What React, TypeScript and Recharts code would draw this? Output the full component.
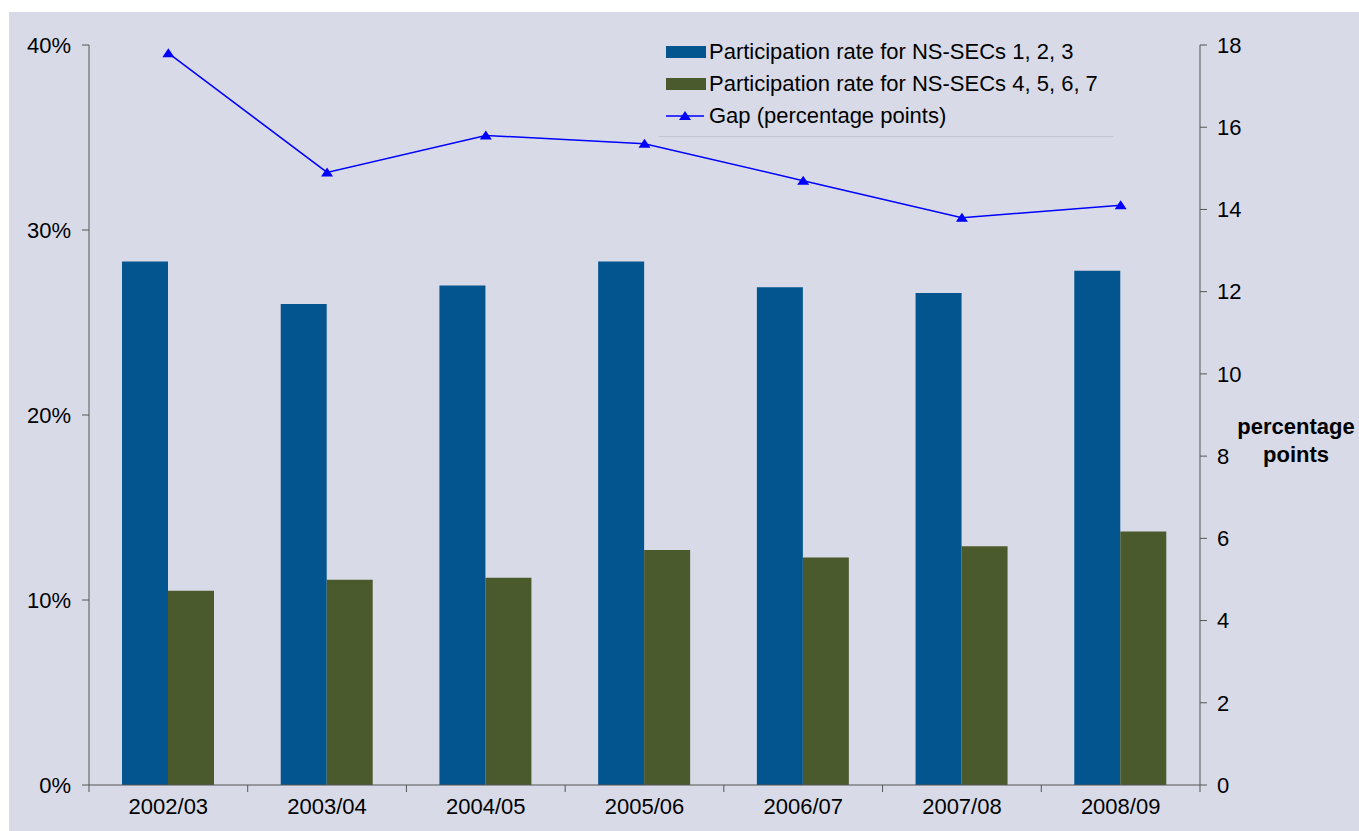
import { ComposedChart, Bar, Line, XAxis, YAxis, Legend } from 'recharts';

const years = ['2002/03', '2003/04', '2004/05', '2005/06', '2006/07', '2007/08', '2008/09'];
const rateHigh = [28.3, 26.0, 27.0, 28.3, 26.9, 26.6, 27.8];
const rateLow = [10.5, 11.1, 11.2, 12.7, 12.3, 12.9, 13.7];
const gapPoints = [17.8, 14.9, 15.8, 15.6, 14.7, 13.8, 14.1];
const leftTicks = [0, 10, 20, 30, 40];
const rightTicks = [0, 2, 4, 6, 8, 10, 12, 14, 16, 18];

const seriesNames = [
  'Participation rate for NS-SECs 1, 2, 3',
  'Participation rate for NS-SECs 4, 5, 6, 7',
  'Gap (percentage points)',
];

const data = years.map((year, i) => ({
  year,
  high: rateHigh[i],
  low: rateLow[i],
  gap: gapPoints[i],
}));

const W = 1359;
const H = 831;
const LEFT_W = 89;
const RIGHT_W = 159;
const HALF_BAND = (W - LEFT_W - RIGHT_W) / years.length / 2;

const FONT = '"Liberation Sans", Arial, sans-serif';
const BLUE = '#02558f';
const OLIVE = '#4b5a2d';
const LINE = '#0000ff';
const AXIS = '#555555';

const tickStyle = { fontSize: 22, fill: '#000', fontFamily: FONT };

const Triangle = ({ cx, cy }: any) => {
  if (cx == null || cy == null) return null;
  return <polygon points={`${cx},${cy - 5} ${cx - 6},${cy + 4} ${cx + 6},${cy + 4}`} fill={LINE} />;
};

const XTick = ({ x, y, payload, index }: any) => (
  <g>
    <line x1={x - HALF_BAND} x2={x - HALF_BAND} y1={y - 13} y2={y - 6} stroke={AXIS} />
    {index === years.length - 1 && (
      <line x1={x + HALF_BAND} x2={x + HALF_BAND} y1={y - 13} y2={y - 6} stroke={AXIS} />
    )}
    <text x={x} y={y} dy="0.71em" textAnchor="middle" {...tickStyle}>
      {payload.value}
    </text>
  </g>
);

const LegendBox = () => (
  <div
    style={{
      fontFamily: FONT,
      fontSize: 22,
      color: '#000',
      borderBottom: '1px solid #c3c6d2',
      paddingLeft: 7,
      paddingBottom: 4,
      lineHeight: '32px',
    }}
  >
    {seriesNames.map((name, i) => (
      <div key={name} style={{ display: 'flex', alignItems: 'center', height: 32 }}>
        <svg width={43} height={16}>
          {i === 0 && <rect x={0} y={2} width={40} height={12} fill={BLUE} />}
          {i === 1 && <rect x={0} y={2} width={40} height={12} fill={OLIVE} />}
          {i === 2 && (
            <g>
              <line x1={0} x2={38} y1={8} y2={8} stroke={LINE} strokeWidth={1.5} />
              <polygon points="19,3 13,12 25,12" fill={LINE} />
            </g>
          )}
        </svg>
        <span>{name}</span>
      </div>
    ))}
  </div>
);

const PointsLabel = ({ viewBox }: any) => {
  const cx = viewBox.x + 96;
  return (
    <text textAnchor="middle" fontFamily={FONT} fontSize={22} fontWeight="bold" fill="#000">
      <tspan x={cx} y={434}>percentage</tspan>
      <tspan x={cx} y={462}>points</tspan>
    </text>
  );
};

export default function App() {
  return (
    <div style={{ position: 'absolute', left: 0, top: 0, width: W, height: H, background: '#fff' }}>
      <div style={{ position: 'absolute', left: 9, top: 12, width: W - 9, height: H - 12, background: '#d8dbe7' }} />
      <div style={{ position: 'absolute', left: 0, top: 0 }}>
        <ComposedChart
          width={W}
          height={H}
          data={data}
          margin={{ top: 45, right: 0, bottom: 0, left: 0 }}
          barGap={0}
        >
          <XAxis
            dataKey="year"
            height={46}
            tickLine={false}
            tickSize={7}
            tickMargin={6}
            axisLine={{ stroke: AXIS }}
            tick={<XTick />}
            interval={0}
          />
          <YAxis
            yAxisId="left"
            width={LEFT_W}
            domain={[0, 40]}
            ticks={leftTicks}
            tickFormatter={(v) => `${v}%`}
            tick={tickStyle}
            tickSize={7}
            tickMargin={11}
            axisLine={{ stroke: AXIS }}
            tickLine={{ stroke: AXIS }}
          />
          <YAxis
            yAxisId="right"
            orientation="right"
            width={RIGHT_W}
            domain={[0, 18]}
            ticks={rightTicks}
            tick={{ ...tickStyle, textAnchor: 'start' }}
            tickSize={7}
            tickMargin={10}
            axisLine={{ stroke: AXIS }}
            tickLine={{ stroke: AXIS }}
            label={<PointsLabel />}
          />
          <Legend
            content={<LegendBox />}
            layout="vertical"
            verticalAlign="middle"
            align="center"
            wrapperStyle={{ left: 659, top: 36, width: 454 }}
          />
          <Bar yAxisId="left" dataKey="high" name={seriesNames[0]} fill={BLUE} barSize={46} isAnimationActive={false} />
          <Bar yAxisId="left" dataKey="low" name={seriesNames[1]} fill={OLIVE} barSize={46} isAnimationActive={false} />
          <Line
            yAxisId="right"
            dataKey="gap"
            name={seriesNames[2]}
            stroke={LINE}
            strokeWidth={1.5}
            dot={<Triangle />}
            activeDot={false}
            isAnimationActive={false}
          />
        </ComposedChart>
      </div>
    </div>
  );
}
